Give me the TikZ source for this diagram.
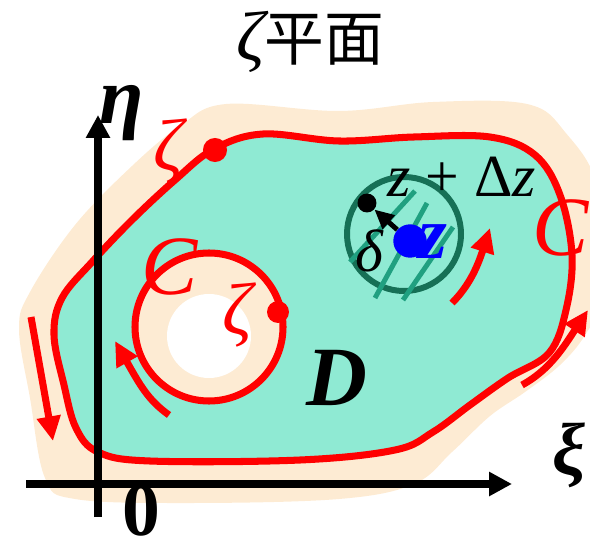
\documentclass[tikz,border=0pt]{standalone}
\usepackage{fontspec}
\setmainfont{Liberation Serif}
\newfontfamily\cjk{Noto Sans CJK SC}
\usetikzlibrary{arrows.meta}
\definecolor{zpbeige}{HTML}{FDEBD3}
\definecolor{zpteal}{HTML}{8FEAD3}
\definecolor{zpring}{HTML}{167056}
\definecolor{zphatch}{HTML}{20A080}
\newcommand{\zpsize}[1]{\fontsize{#1}{#1}\selectfont}
\tikzset{
  axis/.style={line width=4.6pt,-{Triangle[length=13pt,width=13pt]}},
  contour/.style={draw=red,line width=4pt},
  sense/.style={draw=red,line width=4pt,-{Triangle[length=14pt,width=13pt]}},
  pointdot/.style={circle,inner sep=0pt,minimum size=#1},
  lbl/.style={inner sep=0pt},
  redlbl/.style={lbl,text=red,font=\zpsize{40}\itshape},
}

\begin{document}
\begin{tikzpicture}[x=0.02cm,y=-0.02cm]
  \path[use as bounding box] (0,0) rectangle (590,543);
  % region D with its margin
  \fill[zpbeige] plot[smooth cycle,tension=0.6] coordinates {
    (226,104) (339,111) (433,102) (527,104) (565,132) (598,190) (598,300)
    (585,335) (560,365) (525,392) (490,416) (452,452) (414,484) (339,499)
    (188,503) (75,499) (45,478) (30,398) (19,329) (30,292) (75,225)
    (132,166) (180,126)};
  \filldraw[contour,fill=zpteal] plot[smooth cycle,tension=0.6] coordinates {
    (214,149) (263,134) (339,141) (414,137) (490,137) (535,155) (560,195)
    (572,255) (566,310) (549,353) (508,378) (470,405) (433,432) (395,450)
    (300,460) (150,461) (98,452) (76,428) (64,385) (54,335) (62,298)
    (92,262) (132,220) (175,180)};
  % inner boundary around the hole
  \filldraw[contour,fill=zpbeige] (209,327) circle (74);
  \fill[white] (209,336) circle (42);
  % neighbourhood of z
  \draw[zpring,line width=3.4pt] (404,234) circle (57);
  \foreach \a/\b in {{(415,191)}/{(350,262)},{(427,203)}/{(375,298)},{(453,227)}/{(403,300)}}
    \draw[zphatch,line width=2.8pt] \a -- \b;
  % axes
  \coordinate (xstart) at (26,484);
  \coordinate (xend) at (512,484);
  \coordinate (ystart) at (98,517);
  \coordinate (yend) at (98,115);
  \draw[axis] (xstart) -- (xend);
  \draw[axis] (ystart) -- (yend);
  % directions of traversal
  \coordinate (l0) at (31,317);  \coordinate (l1) at (53,441);
  \coordinate (h0) at (169,415); \coordinate (h1) at (115,341);
  \coordinate (r0) at (452,303); \coordinate (r1) at (490,228);
  \coordinate (b0) at (522,385); \coordinate (b1) at (588,310);
  \draw[sense] (l0) -- (l1);
  \draw[sense] (h0) .. controls (148,400) and (140,385) .. (h1);
  \draw[sense] (r0) .. controls (470,285) and (478,265) .. (r1);
  \draw[sense] (b0) .. controls (550,370) and (565,345) .. (b1);
  % points
  \node[pointdot=13.7pt,fill=red] (outerpt) at (215,150) {};
  \node[pointdot=12.5pt,fill=red] (innerpt) at (278,312) {};
  \node[pointdot=10.8pt,fill=black] (nearpt) at (367,203) {};
  \node[pointdot=19pt,fill=blue] (zpt) at (410,241) {};
  \draw[line width=2.8pt,-{Triangle[length=11pt,width=10pt]}] (zpt) -- (nearpt);
  % labels
  \node[lbl] (title) at (310,42) {{\zpsize{40}\itshape ζ}{\cjk\zpsize{34}平面}};
  \node[lbl,font=\zpsize{46}\bfseries\itshape] (eta) at (122,113) {η};
  \node[lbl,font=\zpsize{42}\bfseries\itshape] (xi) at (569,455) {ξ};
  \node[lbl,font=\zpsize{43}\bfseries] (origin) at (141,511) {0};
  \node[redlbl,font=\zpsize{42}\itshape] (zetaout) at (168,151) {ζ};
  \node[redlbl,font=\zpsize{42}\itshape] (zetain) at (237,315) {ζ};
  \node[redlbl,font=\zpsize{48}\itshape] (cin) at (170,267) {C};
  \node[redlbl,font=\zpsize{48}\itshape] (cout) at (561,228) {C};
  \node[lbl,font=\zpsize{48}\bfseries\itshape] (dom) at (337,378) {D};
  \node[lbl,font=\zpsize{34}\itshape] (delta) at (369,251) {δ};
  \node[lbl,text=blue,font=\zpsize{42}\bfseries\itshape] (zlbl) at (433,242) {z};
  \node[lbl,font=\zpsize{34}] (zdz) at (462,177) {\itshape z \upshape+ Δ\itshape z};
\end{tikzpicture}
\end{document}
